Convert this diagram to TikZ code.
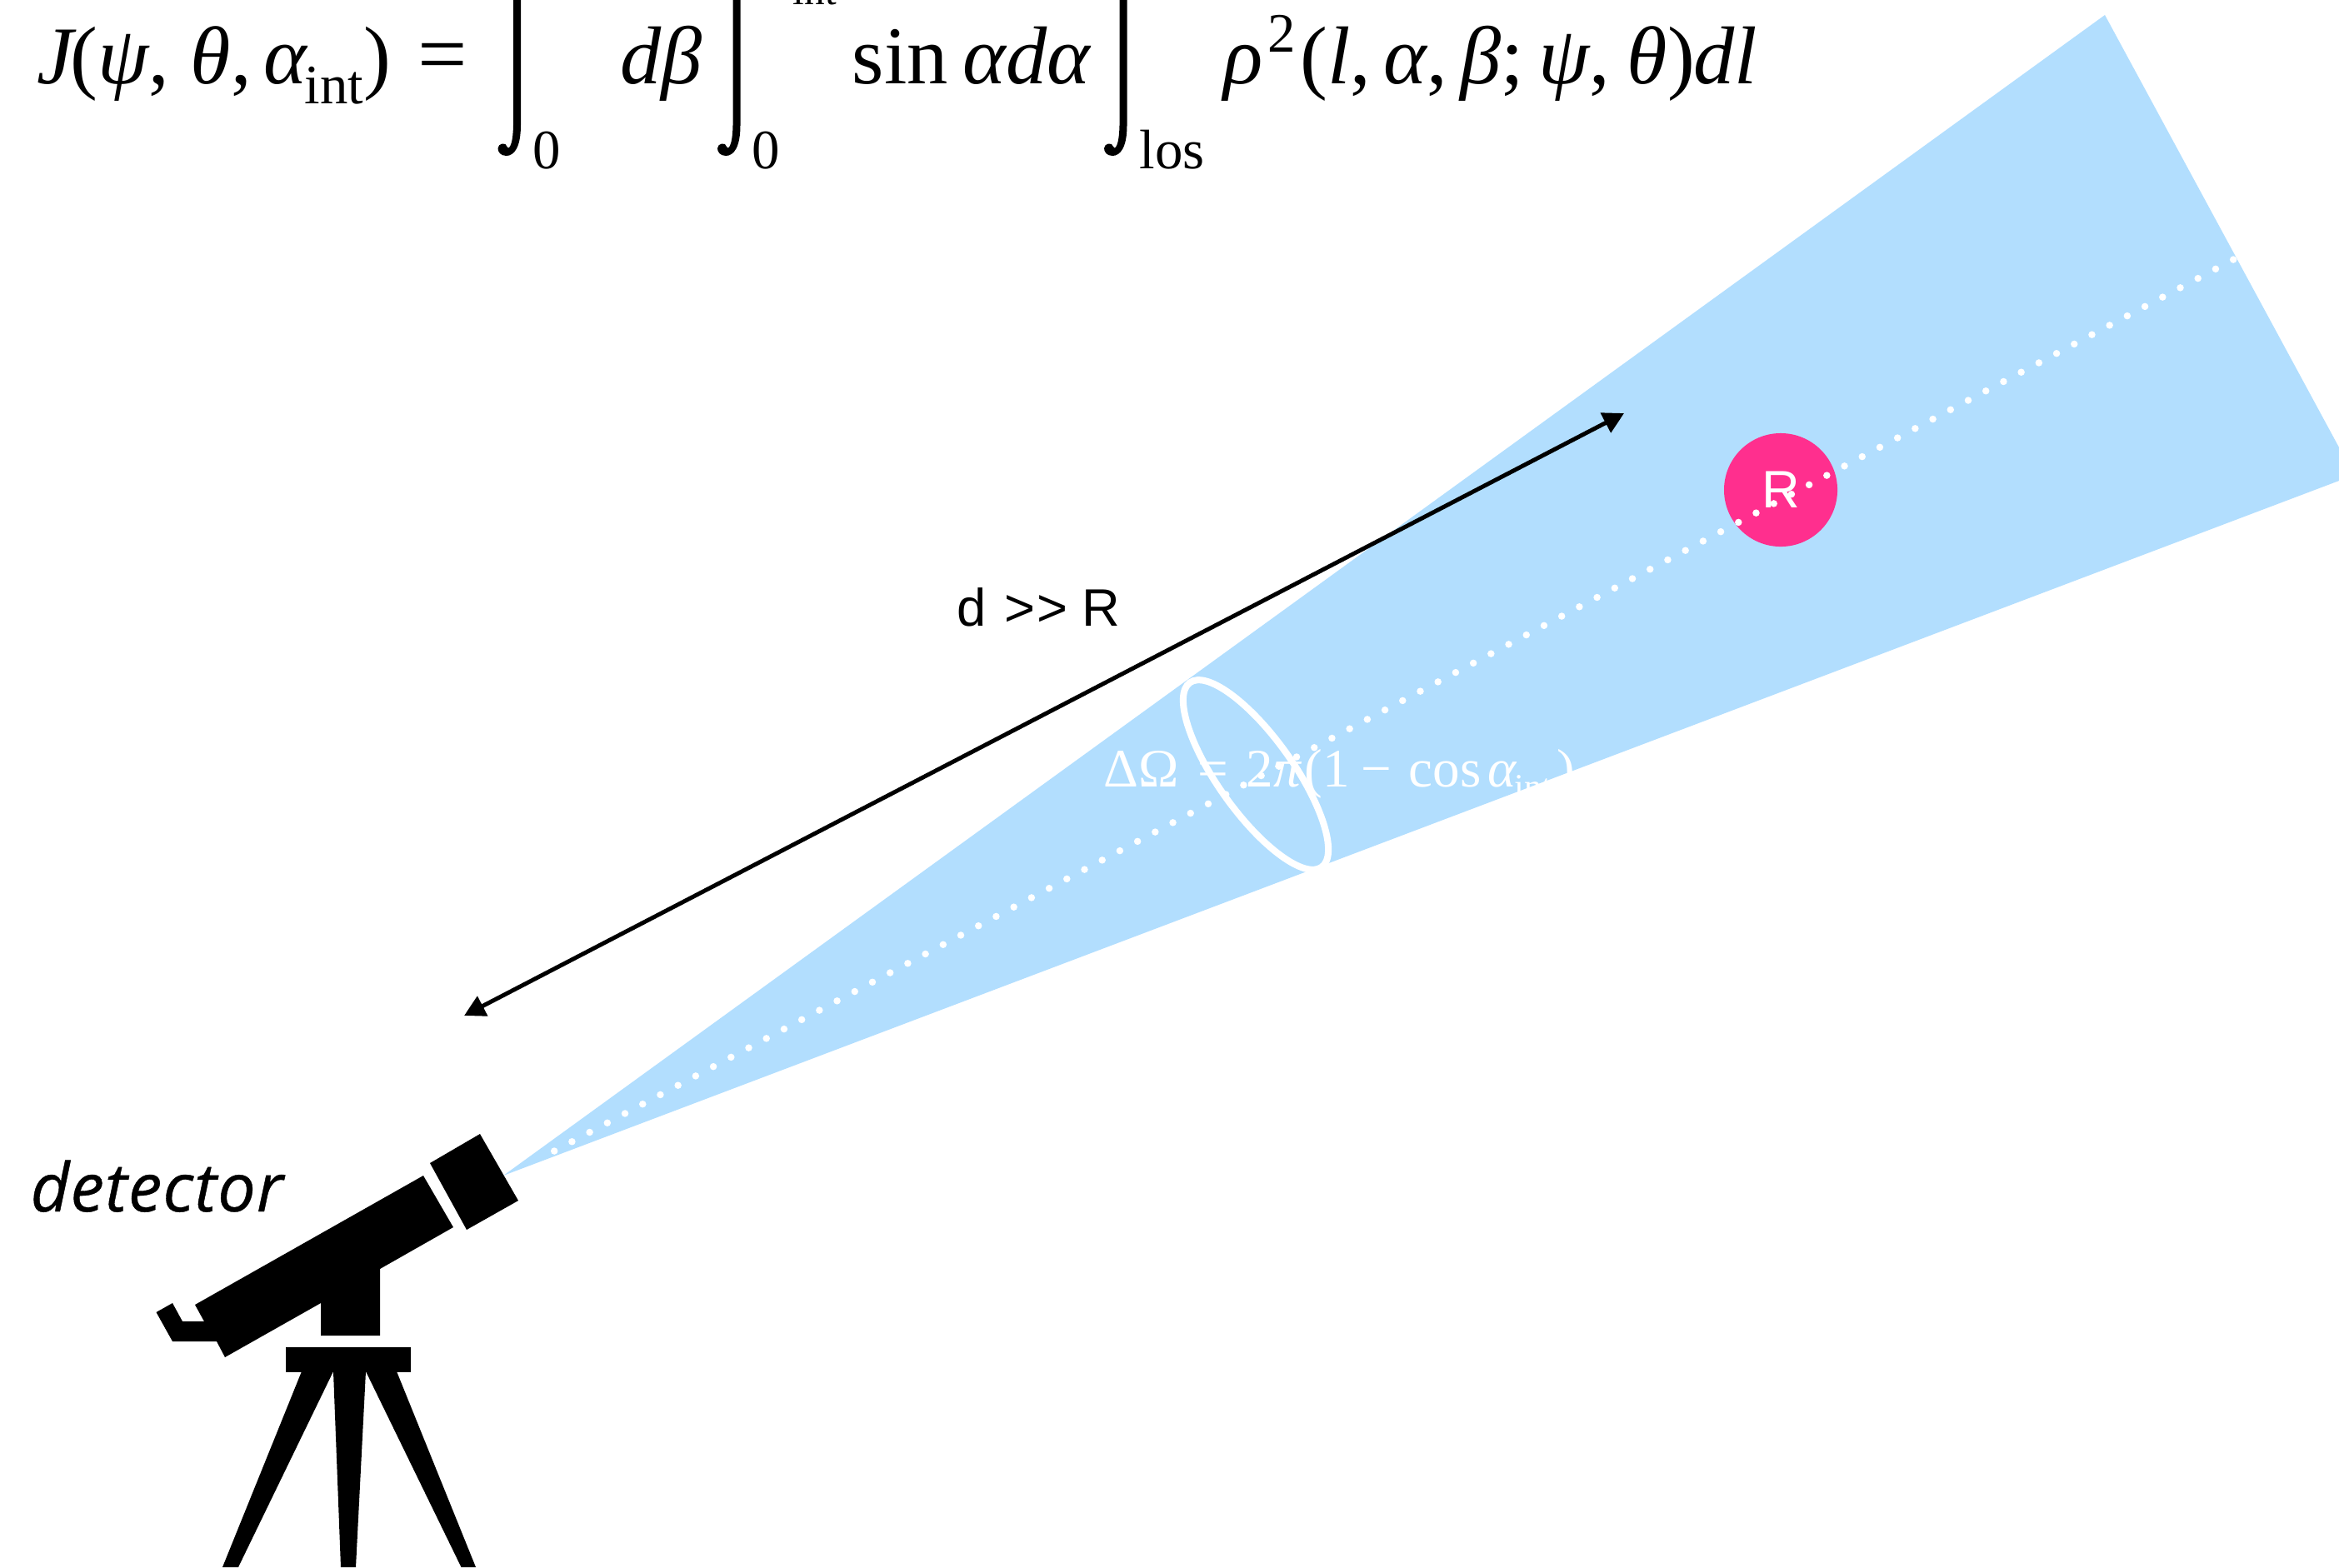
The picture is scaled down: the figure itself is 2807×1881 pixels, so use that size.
\documentclass[tikz,border=0pt]{standalone}
\usepackage{fontspec}
\usetikzlibrary{arrows.meta}
\setmainfont{Liberation Serif}
\setsansfont{Liberation Sans}
\newfontfamily\handfont[FakeBold=0.5,LetterSpace=1.5]{Open Sans}
\definecolor{beam}{HTML}{B2DEFE}
\definecolor{hot}{HTML}{FF2F8E}
\tikzset{
  eq/.style={anchor=base west,inner sep=0pt,font=\fontsize{28}{30}\selectfont},
  eqsub/.style={anchor=base west,inner sep=0pt,font=\fontsize{19}{21}\selectfont},
  eqsubsub/.style={anchor=base west,inner sep=0pt,font=\fontsize{14}{16}\selectfont},
  omega/.style={anchor=base west,inner sep=0pt,text=white,font=\fontsize{18.5}{20}\selectfont},
  omegasub/.style={anchor=base west,inner sep=0pt,text=white,font=\fontsize{12}{14}\selectfont},
  blackfill/.style={fill=black,draw=none},
  intsign/.pic={\fill[black] (4.5,-40) -- (4.5,150) .. controls (4.5,176) and (-3,187) .. (-13,187)
     .. controls (-20,187) and (-23,182) .. (-23,178) .. controls (-23,172) and (-13,170) .. (-12,176)
     .. controls (-11,180) and (-5,178) .. (-4.5,150) -- (-4.5,-40) -- cycle;}
}
\begin{document}
\begin{tikzpicture}[x=0.01cm,y=-0.01cm]
\path[use as bounding box] (0,0) rectangle (2807,1881);
% beam
\fill[beam] (604,1411) -- (2526,18) -- (2807,537) -- (2807,577) -- cycle;
% source
\node[circle,fill=hot,minimum size=1.36cm,inner sep=0pt,text=white,font=\sffamily\fontsize{18}{20}\selectfont] (src) at (2137,588) {R};
% line of sight
\coordinate (dotA) at (665.2,1381.5);
\coordinate (dotB) at (2684,309.5);
\draw[white,line width=0.085cm,line cap=round,dash pattern=on 0pt off 0.24cm] (dotA) -- (dotB);
% solid angle ring
\draw[white,line width=0.08cm,shift={(1507,930)},rotate=-54.5] (0,0) ellipse[x radius=1.36cm,y radius=0.45cm];
\node[omega] (o1) at (1324,944) {ΔΩ};
\node[omega] (o2) at (1437,944) {=};
\node[omega] (o3) at (1495,944) {2\textit{π}};
\node[omega] (o4) at (1565,944) {(1};
\node[omega] (o5) at (1633,944) {−};
\node[omega] (o6) at (1690,944) {cos};
\node[omega] (o7) at (1785,944) {\textit{α}};
\node[omegasub] (o8) at (1817,958) {int};
\node[omega] (o9) at (1868,944) {)};
% distance arrow
\coordinate (dL) at (557,1219);
\coordinate (dR) at (1949,496);
\draw[black,line width=0.05cm,{Triangle[length=0.25cm,width=0.26cm]}-{Triangle[length=0.25cm,width=0.26cm]}] (dL) -- (dR);
\node[anchor=base west,inner sep=0pt,font=\sffamily\fontsize{18}{20}\selectfont] (dlab) at (1148,751) {d \kern1.1pt>\kern0.6pt> R};
% equation
\node[eq] (e1) at (44,100) {\textit{J}};
\node[eq] (e2) at (84,100) {(\textit{ψ},};
\node[eq] (e3) at (228,100) {\textit{θ},};
\node[eq] (e4) at (316,100) {\textit{α}};
\node[eqsub] (e5) at (365,124) {int};
\node[eq] (e6) at (436,100) {)};
\node[anchor=base west,inner sep=0pt,font=\fontsize{30}{32}\selectfont] (e7) at (501,100) {=};
\pic at (620.5,0) {intsign};
\node[eqsub] (e8) at (639,202) {0};
\node[eq] (e9) at (744,100) {\textit{dβ}};
\pic at (884,0) {intsign};
\node[eqsub] (e10) at (902,202) {0};
\node[eqsubsub] (e11) at (951,5) {int};
\node[eq] (e12) at (1022,100) {sin};
\node[eq] (e13) at (1155,100) {\textit{αdα}};
\pic at (1348,0) {intsign};
\node[eqsub] (e14) at (1367,202) {los};
\node[eq] (e15) at (1468,100) {\textit{ρ}};
\node[eqsub] (e16) at (1521,62) {2};
\node[eq] (e17) at (1560,100) {(\textit{l},};
\node[eq] (e18) at (1660,100) {\textit{α},};
\node[eq] (e19) at (1752,100) {\textit{β};};
\node[eq] (e20) at (1846,100) {\textit{ψ},};
\node[eq] (e21) at (1952,100) {\textit{θ})};
\node[eq] (e22) at (2032,100) {\textit{dl}};
% detector label
\node[anchor=base west,inner sep=0pt,font=\handfont\itshape\fontsize{23}{25}\selectfont] (det) at (36,1454) {detector};
% telescope
\fill[blackfill] (576,1361) -- (622,1441) -- (560,1476) -- (516,1396) -- cycle;
\fill[blackfill] (508,1411) -- (544,1473) -- (456,1523) -- (456,1603) -- (385,1603) -- (385,1564)
  -- (270,1629) -- (260,1610) -- (207,1610) -- (187.5,1575) -- (207,1564) -- (219,1586) -- (245,1586) -- (234,1566) -- cycle;
\fill[blackfill] (343,1617) rectangle (493,1647);
\fill[blackfill] (362,1646) -- (400,1646) -- (286,1881) -- (267,1881) -- cycle;
\fill[blackfill] (400,1646) -- (439,1646) -- (427,1881) -- (409,1881) -- cycle;
\fill[blackfill] (439,1646) -- (476,1646) -- (571,1881) -- (553.5,1881) -- cycle;
\end{tikzpicture}
\end{document}
